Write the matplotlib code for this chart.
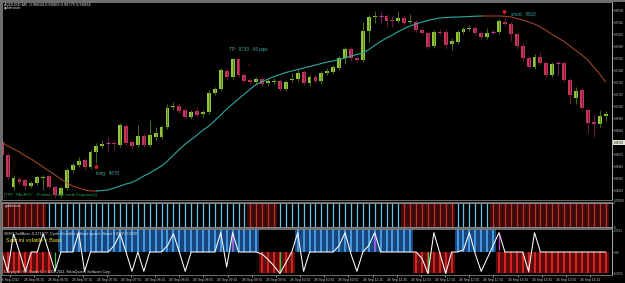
import numpy as np
import matplotlib
matplotlib.use("Agg")
import matplotlib.pyplot as plt
from matplotlib.patches import Rectangle

# ---------------- data ----------------
title_text = "AUDUSD,M5  0.96864 0.96903 0.96775 0.96834"

opens = [0.9672, 0.9659, 0.9627, 0.9635, 0.9634, 0.9628, 0.9631, 0.9636, 0.9638, 0.9627,
         0.9619, 0.9626, 0.9644, 0.9649, 0.9654, 0.9647, 0.9662, 0.9668, 0.9671, 0.9671,
         0.9669, 0.9688, 0.9672, 0.9669, 0.9678, 0.9669, 0.9677, 0.9677, 0.9687, 0.9707,
         0.9708, 0.9704, 0.9697, 0.9703, 0.9700, 0.9702, 0.9721, 0.9725, 0.9743, 0.9737,
         0.9755, 0.9739, 0.9734, 0.9732, 0.9735, 0.9731, 0.9732, 0.9733, 0.9725, 0.9734,
         0.9735, 0.9742, 0.9731, 0.9737, 0.9733, 0.9741, 0.9742, 0.9746, 0.9756, 0.9765,
         0.9756, 0.9754, 0.9783, 0.9797, 0.9798, 0.9798, 0.9794, 0.9793, 0.9796, 0.9792,
         0.9792, 0.9784, 0.9781, 0.9768, 0.9782, 0.9782, 0.9770, 0.9772, 0.9782, 0.9785,
         0.9786, 0.9781, 0.9777, 0.9782, 0.9782, 0.9792, 0.9790, 0.9780, 0.9768, 0.9756,
         0.9747, 0.9757, 0.9751, 0.9739, 0.9751, 0.9751, 0.9734, 0.9716, 0.9724, 0.9704,
         0.9692, 0.9690, 0.9698]
closes = [0.9659, 0.9637, 0.9636, 0.9632, 0.9628, 0.9631, 0.9637, 0.9637, 0.9627, 0.9619,
          0.9626, 0.9644, 0.9649, 0.9653, 0.9647, 0.9662, 0.9668, 0.9670, 0.9671, 0.9670,
          0.9689, 0.9671, 0.9668, 0.9678, 0.9669, 0.9679, 0.9681, 0.9687, 0.9706, 0.9708,
          0.9703, 0.9697, 0.9702, 0.9699, 0.9702, 0.9721, 0.9725, 0.9744, 0.9737, 0.9755,
          0.9739, 0.9733, 0.9732, 0.9735, 0.9730, 0.9733, 0.9733, 0.9725, 0.9732, 0.9735,
          0.9741, 0.9731, 0.9737, 0.9733, 0.9741, 0.9743, 0.9747, 0.9756, 0.9765, 0.9756,
          0.9754, 0.9783, 0.9797, 0.9798, 0.9798, 0.9793, 0.9793, 0.9796, 0.9791, 0.9793,
          0.9784, 0.9781, 0.9767, 0.9782, 0.9781, 0.9769, 0.9773, 0.9782, 0.9785, 0.9786,
          0.9781, 0.9777, 0.9781, 0.9782, 0.9793, 0.9790, 0.9780, 0.9768, 0.9756, 0.9747,
          0.9757, 0.9751, 0.9739, 0.9750, 0.9751, 0.9734, 0.9719, 0.9723, 0.9706, 0.9691,
          0.9690, 0.9698, 0.9700]
highs = [0.9676, 0.9661, 0.9639, 0.9637, 0.9636, 0.9633, 0.9639, 0.9639, 0.9640, 0.9629,
         0.9628, 0.9646, 0.9651, 0.9657, 0.9656, 0.9664, 0.9671, 0.9674, 0.9677, 0.9674,
         0.9691, 0.9690, 0.9674, 0.9689, 0.9681, 0.9694, 0.9687, 0.9689, 0.9710, 0.9712,
         0.9711, 0.9706, 0.9704, 0.9707, 0.9704, 0.9724, 0.9727, 0.9746, 0.9746, 0.9756,
         0.9756, 0.9741, 0.9736, 0.9737, 0.9737, 0.9735, 0.9736, 0.9735, 0.9734, 0.9741,
         0.9745, 0.9744, 0.9739, 0.9739, 0.9743, 0.9746, 0.9749, 0.9758, 0.9767, 0.9767,
         0.9758, 0.9792, 0.9799, 0.9803, 0.9803, 0.9800, 0.9798, 0.9803, 0.9799, 0.9800,
         0.9794, 0.9786, 0.9783, 0.9784, 0.9784, 0.9785, 0.9776, 0.9784, 0.9787, 0.9789,
         0.9788, 0.9783, 0.9786, 0.9784, 0.9795, 0.9796, 0.9792, 0.9781, 0.9771, 0.9758,
         0.9760, 0.9762, 0.9753, 0.9752, 0.9753, 0.9753, 0.9736, 0.9727, 0.9726, 0.9706,
         0.9700, 0.9704, 0.9703]
lows = [0.9657, 0.9634, 0.9624, 0.9630, 0.9624, 0.9626, 0.9629, 0.9624, 0.9625, 0.9616,
        0.9616, 0.9624, 0.9642, 0.9647, 0.9644, 0.9645, 0.9651, 0.9666, 0.9662, 0.9664,
        0.9667, 0.9669, 0.9665, 0.9667, 0.9667, 0.9667, 0.9674, 0.9675, 0.9685, 0.9704,
        0.9701, 0.9695, 0.9695, 0.9697, 0.9697, 0.9700, 0.9719, 0.9723, 0.9735, 0.9735,
        0.9737, 0.9731, 0.9730, 0.9730, 0.9728, 0.9728, 0.9730, 0.9723, 0.9723, 0.9732,
        0.9733, 0.9729, 0.9728, 0.9731, 0.9730, 0.9739, 0.9740, 0.9744, 0.9750, 0.9754,
        0.9752, 0.9752, 0.9772, 0.9791, 0.9791, 0.9787, 0.9787, 0.9791, 0.9789, 0.9790,
        0.9782, 0.9779, 0.9765, 0.9766, 0.9779, 0.9765, 0.9764, 0.9770, 0.9780, 0.9783,
        0.9779, 0.9775, 0.9775, 0.9780, 0.9780, 0.9788, 0.9773, 0.9765, 0.9753, 0.9745,
        0.9745, 0.9749, 0.9736, 0.9737, 0.9739, 0.9732, 0.9710, 0.9710, 0.9704, 0.9681,
        0.9677, 0.9687, 0.9693]
ma = [0.9672, 0.9668, 0.9665, 0.9662, 0.9658, 0.9655, 0.9651, 0.9647, 0.9643, 0.9639,
      0.9635, 0.9631, 0.9628, 0.9626, 0.9624, 0.9623, 0.9623, 0.96235, 0.9624, 0.9626,
      0.9628, 0.9630, 0.96315, 0.96345, 0.9638, 0.9641, 0.96445, 0.9648, 0.9653, 0.9659,
      0.96645, 0.9670, 0.96745, 0.9679, 0.9684, 0.9688, 0.96935, 0.9699, 0.9705, 0.9710,
      0.9715, 0.9720, 0.9725, 0.97295, 0.97325, 0.9735, 0.97375, 0.97395, 0.97415, 0.9743,
      0.97445, 0.9746, 0.97475, 0.9749, 0.97505, 0.9752, 0.9753, 0.97545, 0.9756, 0.9758,
      0.97595, 0.9761, 0.97645, 0.97685, 0.97725, 0.9776, 0.9779, 0.97825, 0.97855, 0.9788,
      0.9790, 0.9792, 0.97935, 0.9795, 0.9796, 0.97965, 0.97968, 0.9797, 0.97972, 0.97975,
      0.97978, 0.9798, 0.9798, 0.9798, 0.9798, 0.97978, 0.9797, 0.97955, 0.9794, 0.9792,
      0.9790, 0.9787, 0.97835, 0.97795, 0.9776, 0.97725, 0.9768, 0.97635, 0.9759, 0.9754,
      0.9747, 0.9740, 0.9732]
ma_turns = [16, 81]          # bars where the moving average changes colour

price_ticks = [0.98040, 0.97920, 0.97800, 0.97680, 0.97560, 0.97440, 0.97320, 0.97200,
               0.97080, 0.96960, 0.96840, 0.96720, 0.96600, 0.96480, 0.96360, 0.96240]
bid_tick = 0.96720

# signals: (bar, price, text)
long_sig = (16, 0.9670, "long:  9670")
tp_sig = (42, 0.9730, "TP:  9730 - 60 pips")
short_sig = (86, 0.9810, "short:  9810")

# goldminer histogram state (run lengths): -1 red, +1 blue
gm_vals = [-1, 1, -1, 1, -1, 1, -1]
gm_lens = [8, 34, 5, 21, 9, 6, 20]

# cycle identifier bars (run lengths): +1 blue above zero, -1 red below, 0 none
cy_vals = [-1, 0, 1, -1, 1, -1, 1, -1]
cy_lens = [9, 1, 34, 6, 20, 7, 7, 19]
# zigzag line (units of 0.0001)
zigzag = [0, -0.9, 0.85, 0, -0.9, 0, 0, 0.85, 0, -0.9,
          0, 0, 0, 0.9, -0.9, 0, 0, 0, 0, 0.3,
          0.85, 0, -0.9, 0, -0.9, 0, 0, 0, 0.3, 0.85,
          0, -0.9, 0, 0, 0, 0, 0, 0.9, -0.7, 0.9,
          0, 0, 0, 0, -0.1, -0.35, -0.65, -1.0, -0.5, 0,
          0.9, -0.9, 0, 0, 0, 0, 0, 0.3, 0.9, -0.1,
          -0.9, 0, 0.3, 0.9, 0, 0, 0, 0, 0, 0,
          0, -0.3, -1.0, 0.9, -0.05, -1.0, 0, 0, 0.1, 0.9,
          -0.1, -0.9, -0.3, 0.3, 0.9, 0, 0, 0, 0, -0.9,
          0.9, 0, 0, 0, 0, 0, 0, 0, 0, 0,
          0, 0, 0]
green_sig = [9, 47, 72]
magenta_sig = [39, 63, 84]

time_labels = ["26 Sep 2011", "26 Sep 06:35", "26 Sep 06:55", "26 Sep 07:15", "26 Sep 07:35",
               "26 Sep 07:55", "26 Sep 08:15", "26 Sep 08:35", "26 Sep 08:55", "26 Sep 09:15",
               "26 Sep 09:35", "26 Sep 09:55", "26 Sep 10:15", "26 Sep 10:35", "26 Sep 10:55",
               "26 Sep 11:15", "26 Sep 11:35", "26 Sep 11:55", "26 Sep 12:15", "26 Sep 12:35",
               "26 Sep 12:55", "26 Sep 13:15", "26 Sep 13:35", "26 Sep 13:55", "26 Sep 14:15"]

# ---------------- figure ----------------
W, H = 625, 283
fig = plt.figure(figsize=(W / 100, H / 100), dpi=100, facecolor="black")
plt.rcParams["font.family"] = ["Liberation Sans", "DejaVu Sans"]


def px_axes(x0, y0, x1, y1):
    return fig.add_axes([x0 / W, 1 - y1 / H, (x1 - x0) / W, (y1 - y0) / H])


LX, RX = 2, 612
ax1 = px_axes(LX, 2, RX, 200)
ax2 = px_axes(LX, 202, RX, 228)
ax3 = px_axes(LX, 229, RX, 275)

n = len(opens)
idx = np.arange(n)
xlim = (0.05, 103.09)
for ax in (ax1, ax2, ax3):
    ax.set_facecolor("black")
    ax.set_xlim(*xlim)
    for s in ax.spines.values():
        s.set_color("#808080")
        s.set_linewidth(0.6)
    ax.spines["right"].set_color("#c8c8c8")
    ax.yaxis.tick_right()
    ax.tick_params(axis="y", colors="#c8c8c8", labelsize=2.0, length=1.0, width=0.5, pad=0.4)
    ax.tick_params(axis="x", bottom=False, labelbottom=False)

# ----- candles -----
o, c, h, l = map(np.array, (opens, closes, highs, lows))
up = c > o
dn = c < o
dj = c == o
ax1.vlines(idx[up], l[up], h[up], color="#4f7d1c", lw=0.6)
ax1.vlines(idx[dn], l[dn], h[dn], color="#7a1c3c", lw=0.6)
ax1.vlines(idx[dj], l[dj], h[dj], color="#7a1c6a", lw=0.6)
ax1.bar(idx[up], c[up] - o[up], bottom=o[up], width=0.66, color="#95c43a", edgecolor="none")
ax1.bar(idx[dn], o[dn] - c[dn], bottom=c[dn], width=0.66, color="#c6355a", edgecolor="none")
ax1.hlines(c[dj], idx[dj] - 0.33, idx[dj] + 0.33, color="#c03a9a", lw=0.9)

# ----- moving average -----
ma_a = np.array(ma)
t0, t1 = ma_turns
ax1.plot(idx[:t0 + 1], ma_a[:t0 + 1], color="#b04a32", lw=0.7)
ax1.plot(idx[t0:t1 + 1], ma_a[t0:t1 + 1], color="#2aa9a2", lw=0.8)
ax1.plot(idx[t1:], ma_a[t1:], color="#b04a32", lw=0.7)

ax1.set_ylim(0.9614, 0.9812)
ax1.set_yticks(price_ticks)
ax1.set_yticklabels([f"{v:.5f}" for v in price_ticks])
for lbl, v in zip(ax1.get_yticklabels(), price_ticks):
    if abs(v - bid_tick) < 1e-9:
        lbl.set_color("black")
        lbl.set_bbox(dict(facecolor="#e6e6d2", edgecolor="none", pad=0.4))

# ----- signals -----
ann_col = "#4aa89c"
i, p, t = long_sig
ax1.plot(i, lows[i] - 0.0003, marker="^", ms=2.2, color="#d02020", mec="#d02020")
ax1.text(i, lows[i] - 0.0010, t, color=ann_col, fontsize=3.3, va="center", ha="left")
i, p, t = tp_sig
ax1.text(i - 0.4, highs[i] + 0.0013, "\u2713", color="#d02020", fontsize=3.2, va="center",
         ha="center", family="DejaVu Sans")
ax1.text(i - 3.6, highs[i] + 0.0028, t, color=ann_col, fontsize=3.3, va="center", ha="left")
i, p, t = short_sig
ax1.plot(i - 1.2, highs[i] + 0.0010, marker="v", ms=2.2, color="#d02020")
ax1.text(i, highs[i] + 0.0008, t, color=ann_col, fontsize=3.3, va="center", ha="left")

ax1.text(0.003, 0.025, '[TFE "PALATO" - (Paladin - Solar earth Kingdoms)]', transform=ax1.transAxes,
         color="#2f9a4a", fontsize=3.0, va="center", ha="left")

# ----- goldminer panel -----
gm = np.repeat(gm_vals, gm_lens)
red = gm < 0
blue = gm > 0
ax2.bar(idx[red], 1, width=1.0, color="#3c0a0a", edgecolor="none")
ax2.vlines(idx[red], 0, 1, color="#c23028", lw=0.9)
ax2.vlines(idx[blue], 0, 1, color="#62c3ec", lw=0.9)
ax2.axhline(1, color="#8c8c8c", lw=0.7)
ax2.axhline(0, color="#8c8c8c", lw=0.7)
ax2.set_ylim(-0.04, 1.04)
ax2.set_yticks([1, 0])
ax2.set_yticklabels(["1", "0"])
ax2.text(0.004, 0.84, "goldminer", transform=ax2.transAxes, color="#e0e0e0", fontsize=2.8, va="center")
fig.text(613.6 / W, 1 - 200.5 / H, "0.760130", color="#c8c8c8", fontsize=1.9, va="center")

# ----- cycle identifier panel -----
cy = np.repeat(cy_vals, cy_lens)
scale = 1e-4
cb = cy > 0
cr = cy < 0
ax3.bar(idx[cb], 1.05 * scale, width=1.0, color="#17467e", edgecolor="none")
ax3.vlines(idx[cb], 0, 1.05 * scale, color="#4fa9ee", lw=1.2)
ax3.bar(idx[cr], -0.98 * scale, width=1.0, color="#5c0a0a", edgecolor="none")
ax3.vlines(idx[cr], 0, -0.98 * scale, color="#ee2a24", lw=1.2)
zz = np.array(zigzag) * scale
for i in green_sig:
    ax3.vlines(i, zz[i], 0, color="#39c24a", lw=0.9)
for i in magenta_sig:
    ax3.vlines(i, 0.1 * scale, zz[i], color="#c23ad8", lw=0.9)
ax3.plot(idx, zz, color="white", lw=0.75)
ax3.set_ylim(-1.07 * scale, 1.07 * scale)
ax3.set_yticks([scale, 0, -scale])
ax3.set_yticklabels(["0.0001", "0.00", "-0.0001"])
ax3.text(0.004, 0.9, "SEFC-SoftBear -0.271477, Cycle identifier without repaint  Boost 0.0000 0.9700",
         transform=ax3.transAxes, color="#e0e0e0", fontsize=2.7, va="center")
ax3.text(0.006, 0.76, "Saat ini volatile = Baaz", transform=ax3.transAxes, color="#e8e23a",
         fontsize=4.0, va="center")
ax3.text(0.003, 0.06, "Copyright\u00a9 FX Trader V, \u00a9 2001-2011, MetaQuotes Software Corp.",
         transform=ax3.transAxes, color="#e0e0e0", fontsize=2.6, va="center")

tick_pos = np.linspace(1.4, 99.4, len(time_labels))
ax3.set_xticks(tick_pos)
ax3.set_xticklabels(time_labels)
ax3.tick_params(axis="x", bottom=True, labelbottom=True, colors="#d0d0d0", labelsize=2.45,
                length=1.5, width=0.5, pad=0.8)

# ----- title and window frame -----
fig.text(4 / W, 1 - 4.2 / H, title_text, color="#e0e0e0", fontsize=2.9, va="center")
fig.text(4 / W, 1 - 8 / H, "goldminer", color="#e0e0e0", fontsize=2.9, va="center")
fig.patches.append(Rectangle((0, 1 - 1.6 / H), 1, 1.6 / H, transform=fig.transFigure,
                             facecolor="#6e6e6e", edgecolor="none"))
fig.patches.append(Rectangle((0, 0), 1.6 / W, 1, transform=fig.transFigure,
                             facecolor="#6e6e6e", edgecolor="none"))

fig.savefig("out.png", dpi=100, facecolor="black")
